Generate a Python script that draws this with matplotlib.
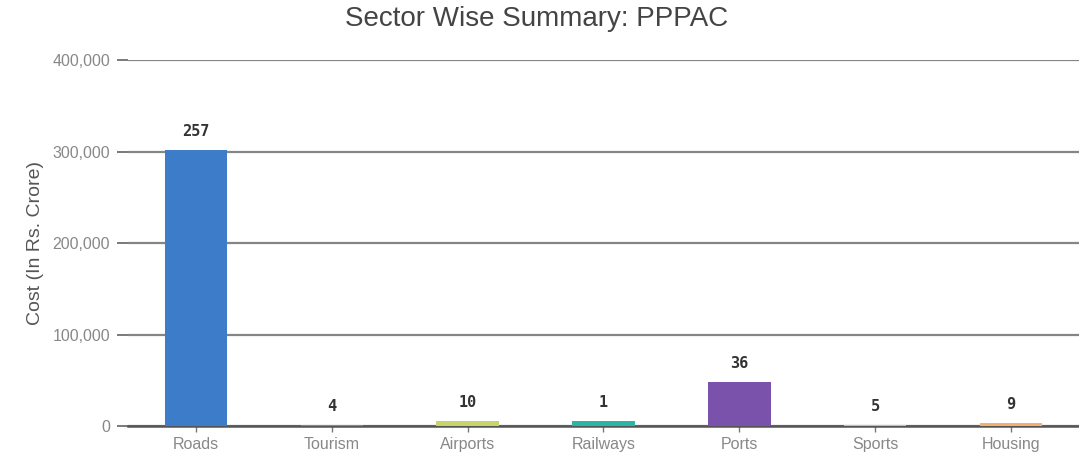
import matplotlib
matplotlib.use("Agg")
import matplotlib.pyplot as plt
from matplotlib.ticker import FuncFormatter

sectors = ["Roads", "Tourism", "Airports", "Railways", "Ports", "Sports", "Housing"]
costs = [301500, 800, 5500, 5500, 48000, 600, 3500]
project_counts = [257, 4, 10, 1, 36, 5, 9]
colors = ["#3d7cc9", "#e0607a", "#c9d36a", "#2bb5a5", "#7b52ab", "#e8c050", "#f5b070"]
yticks = [0, 100000, 200000, 300000, 400000]

plt.rcParams["font.family"] = ["Liberation Sans", "DejaVu Sans"]

fig = plt.figure(figsize=(10.79, 4.54), dpi=100)
ax = fig.add_axes([0.1186, 0.0617, 0.8814, 0.806])

x = range(len(sectors))
ax.bar(x, costs, width=0.46, color=colors, zorder=3)

for xi, c, n in zip(x, costs, project_counts):
    ax.annotate(str(n), (xi, c), xytext=(0, 8), textcoords="offset points",
                ha="center", va="bottom", fontsize=11, fontweight="bold",
                color="#333333", family="DejaVu Sans Mono")

ax.set_xlim(-0.5, len(sectors) - 0.5)
ax.set_ylim(0, 400000)
ax.set_yticks(yticks)
ax.yaxis.set_major_formatter(FuncFormatter(lambda v, p: f"{int(v):,}"))
ax.set_xticks(list(x))
ax.set_xticklabels(sectors)

ax.grid(axis="y", color="#858585", linewidth=1.6, zorder=0)
for s in ["top", "right", "left"]:
    ax.spines[s].set_visible(False)
ax.spines["bottom"].set_color("#555555")
ax.spines["bottom"].set_linewidth(1.8)

ax.tick_params(axis="y", length=8, width=1.4, color="#7a7a7a", labelcolor="#888888",
               labelsize=11.5, pad=5)
ax.tick_params(axis="x", length=4, width=1, color="#777777", labelcolor="#888888",
               labelsize=11.5, pad=4)

ax.set_ylabel("Cost (In Rs. Crore)", fontsize=14, color="#555555", labelpad=6)
fig.text(0.497, 0.958, "Sector Wise Summary: PPPAC", ha="center", va="center",
         fontsize=20, color="#444444")

fig.savefig("out.png", dpi=100)
